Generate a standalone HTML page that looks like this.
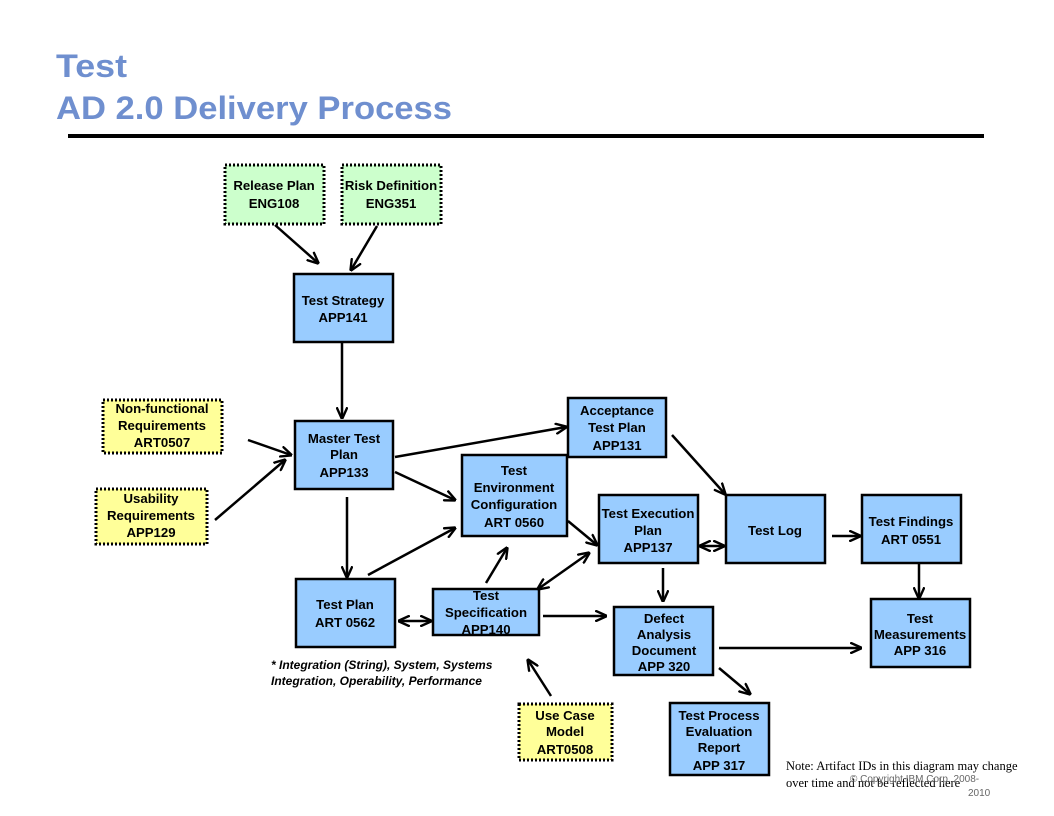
<!DOCTYPE html>
<html><head><meta charset="utf-8"><style>
html,body{margin:0;padding:0;background:#fff;}
svg{display:block;}
.t{font-family:"Liberation Sans",Arial,sans-serif;font-weight:bold;font-size:13.2px;fill:#000;text-anchor:middle;}
</style></head><body>
<svg width="1054" height="816" viewBox="0 0 1054 816" xmlns="http://www.w3.org/2000/svg">
<defs><marker id="a" viewBox="0 0 10 10" refX="9" refY="5" markerWidth="12" markerHeight="12" orient="auto-start-reverse" markerUnits="userSpaceOnUse"><path d="M0,0.5 L10,5 L0,9.5" fill="none" stroke="#000" stroke-width="2"/></marker></defs>
<text x="56" y="77" font-family="Liberation Sans,Arial,sans-serif" font-weight="bold" font-size="32" fill="#6f8fcf" textLength="71" lengthAdjust="spacingAndGlyphs">Test</text>
<text x="56" y="119" font-family="Liberation Sans,Arial,sans-serif" font-weight="bold" font-size="32" fill="#6f8fcf" textLength="396" lengthAdjust="spacingAndGlyphs">AD 2.0 Delivery Process</text>
<rect x="68" y="134" width="916" height="4" fill="#000"/>
<g stroke="#000" stroke-width="3" stroke-dasharray="2,2">
<rect x="225" y="165" width="99" height="59" fill="#ccffcc"/>
<rect x="342" y="165" width="99" height="59" fill="#ccffcc"/>
<rect x="103" y="400" width="119" height="53" fill="#ffff99"/>
<rect x="96" y="489" width="111" height="55" fill="#ffff99"/>
<rect x="519" y="704" width="93" height="56" fill="#ffff99"/>
</g>
<g stroke="#000" stroke-width="2.5" fill="#99ccff">
<rect x="294" y="274" width="99" height="68"/>
<rect x="295" y="421" width="98" height="68"/>
<rect x="568" y="398" width="98" height="59"/>
<rect x="462" y="455" width="105" height="81"/>
<rect x="599" y="495" width="99" height="68"/>
<rect x="726" y="495" width="99" height="68"/>
<rect x="862" y="495" width="99" height="68"/>
<rect x="296" y="579" width="99" height="68"/>
<rect x="433" y="589" width="106" height="46"/>
<rect x="614" y="607" width="99" height="68"/>
<rect x="871" y="599" width="99" height="68"/>
<rect x="670" y="703" width="99" height="72"/>
</g>
<g stroke="#000" stroke-width="2.5" fill="none" marker-end="url(#a)">
<line x1="275" y1="225" x2="318" y2="263"/>
<line x1="377" y1="226" x2="351" y2="270"/>
<line x1="342" y1="342" x2="342" y2="418"/>
<line x1="248" y1="440" x2="291" y2="455"/>
<line x1="215" y1="520" x2="285" y2="460"/>
<line x1="395" y1="457" x2="566" y2="427"/>
<line x1="395" y1="472" x2="455" y2="500"/>
<line x1="347" y1="497" x2="347" y2="577"/>
<line x1="368" y1="575" x2="455" y2="528"/>
<line x1="486" y1="583" x2="507" y2="548"/>
<line x1="568" y1="521" x2="597" y2="545"/>
<line x1="672" y1="435" x2="725" y2="494"/>
<line x1="700" y1="546" x2="724" y2="546" marker-start="url(#a)"/>
<line x1="832" y1="536" x2="860" y2="536"/>
<line x1="919" y1="563" x2="919" y2="598"/>
<line x1="663" y1="568" x2="663" y2="601"/>
<line x1="538" y1="589" x2="589" y2="553" marker-start="url(#a)"/>
<line x1="399" y1="621" x2="431" y2="621" marker-start="url(#a)"/>
<line x1="543" y1="616" x2="606" y2="616"/>
<line x1="719" y1="648" x2="861" y2="648"/>
<line x1="719" y1="668" x2="750" y2="694"/>
<line x1="551" y1="696" x2="528" y2="660"/>
</g>
<text class="t"><tspan x="274" y="190">Release Plan</tspan><tspan x="274" y="208">ENG108</tspan></text>
<text class="t"><tspan x="391" y="190">Risk Definition</tspan><tspan x="391" y="208">ENG351</tspan></text>
<text class="t"><tspan x="343" y="305">Test Strategy</tspan><tspan x="343" y="322">APP141</tspan></text>
<text class="t"><tspan x="162" y="413">Non-functional</tspan><tspan x="162" y="430">Requirements</tspan><tspan x="162" y="447">ART0507</tspan></text>
<text class="t"><tspan x="151" y="503">Usability</tspan><tspan x="151" y="520">Requirements</tspan><tspan x="151" y="537">APP129</tspan></text>
<text class="t"><tspan x="344" y="443">Master Test</tspan><tspan x="344" y="459">Plan</tspan><tspan x="344" y="477">APP133</tspan></text>
<text class="t"><tspan x="617" y="415">Acceptance</tspan><tspan x="617" y="432">Test Plan</tspan><tspan x="617" y="450">APP131</tspan></text>
<text class="t"><tspan x="514" y="475">Test</tspan><tspan x="514" y="492">Environment</tspan><tspan x="514" y="509">Configuration</tspan><tspan x="514" y="527">ART 0560</tspan></text>
<text class="t"><tspan x="648" y="518">Test Execution</tspan><tspan x="648" y="535">Plan</tspan><tspan x="648" y="552">APP137</tspan></text>
<text class="t"><tspan x="775" y="535">Test Log</tspan></text>
<text class="t"><tspan x="911" y="526">Test Findings</tspan><tspan x="911" y="544">ART 0551</tspan></text>
<text class="t"><tspan x="345" y="609">Test Plan</tspan><tspan x="345" y="627">ART 0562</tspan></text>
<text class="t"><tspan x="486" y="600">Test</tspan><tspan x="486" y="617">Specification</tspan><tspan x="486" y="634">APP140</tspan></text>
<text class="t"><tspan x="664" y="623">Defect</tspan><tspan x="664" y="639">Analysis</tspan><tspan x="664" y="655">Document</tspan><tspan x="664" y="671">APP 320</tspan></text>
<text class="t"><tspan x="920" y="623">Test</tspan><tspan x="920" y="639">Measurements</tspan><tspan x="920" y="655">APP 316</tspan></text>
<text class="t"><tspan x="719" y="720">Test Process</tspan><tspan x="719" y="736">Evaluation</tspan><tspan x="719" y="752">Report</tspan><tspan x="719" y="770">APP 317</tspan></text>
<text class="t"><tspan x="565" y="720">Use Case</tspan><tspan x="565" y="736">Model</tspan><tspan x="565" y="754">ART0508</tspan></text>
<text font-family="Liberation Sans,Arial,sans-serif" font-weight="bold" font-style="italic" font-size="12" fill="#000"><tspan x="271" y="669">* Integration (String), System, Systems</tspan><tspan x="271" y="685">Integration, Operability, Performance</tspan></text>
<text font-family="Liberation Serif,serif" font-size="12.5" fill="#000"><tspan x="786" y="770">Note: Artifact IDs in this diagram may change</tspan><tspan x="786" y="787">over time and not be reflected here</tspan></text>
<text font-family="Liberation Sans,Arial,sans-serif" font-size="10" fill="#666"><tspan x="850" y="782">© Copyright IBM Corp. 2008-</tspan><tspan x="968" y="796">2010</tspan></text>
</svg>
</body></html>
